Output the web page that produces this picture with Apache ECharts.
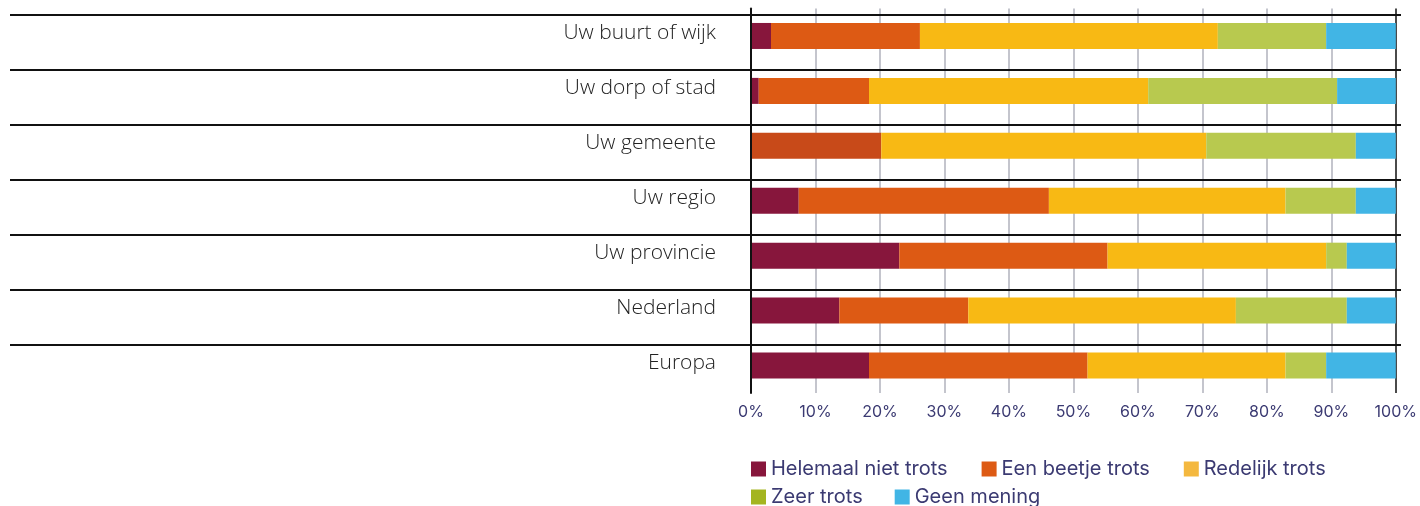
<!DOCTYPE html>
<html>
<head>
<meta charset="utf-8">
<script src="https://cdn.jsdelivr.net/npm/echarts@6/dist/echarts.min.js"></script>
<style>
  html, body { margin: 0; padding: 0; background: #fff; }
  #chart { width: 1420px; height: 506px; }
</style>
</head>
<body>
<div id="chart"></div>
<script>
const categories = ['Uw buurt of wijk', 'Uw dorp of stad', 'Uw gemeente', 'Uw regio', 'Uw provincie', 'Nederland', 'Europa']
const seriesNames = ['Helemaal niet trots', 'Een beetje trots', 'Redelijk trots', 'Zeer trots', 'Geen mening']
const helemaalNiet = [3.1, 1.2, 0, 7.4, 23.0, 13.7, 18.3]
const beetje = [23.1, 17.1, 20.2, 38.8, 32.3, 20.0, 33.9]
const redelijk = [46.2, 43.3, 50.4, 36.7, 33.9, 41.5, 30.7]
const zeer = [16.8, 29.3, 23.2, 10.9, 3.2, 17.2, 6.3]
const geenMening = [10.8, 9.1, 6.2, 6.2, 7.6, 7.6, 10.8]
const xTicks = [0, 10, 20, 30, 40, 50, 60, 70, 80, 90, 100]

const barColors = ['#87163C', '#DD5A14', '#F8B914', '#B8C94F', '#41B5E5']
const legendColors = ['#87163C', '#DD5A14', '#F4B83F', '#A4B520', '#41B5E5']
const navy = '#3B3A72'

const values = [helemaalNiet, beetje, redelijk, zeer, geenMening]

const chart = echarts.init(document.getElementById('chart'))

// last vertical grid line (100%) is drawn darker, like a frame
const gridLineColors = xTicks.map((t, i) => i === xTicks.length - 1 ? '#4a4a4a' : '#C4C5CD')

const legendText = { color: navy, fontSize: 20, fontFamily: 'Inter' }

chart.setOption({
  animation: false,
  grid: [
    { left: 751, right: 19, top: 8.5, height: 384.5 },
    { left: 10, right: 19, top: 15, height: 330 }
  ],
  xAxis: [
    {
      type: 'value', gridIndex: 0, min: 0, max: 100, interval: 10,
      axisLine: { show: false }, axisTick: { show: false },
      axisLabel: { formatter: '{value}%', color: navy, fontSize: 16, fontFamily: 'Inter', margin: 11 },
      splitLine: { lineStyle: { color: gridLineColors, width: 2 } }
    },
    { type: 'value', gridIndex: 1, show: false, min: 0, max: 1 }
  ],
  yAxis: [
    {
      type: 'category', gridIndex: 0, data: categories, inverse: true, z: 3,
      axisLine: { lineStyle: { color: '#111', width: 2 } },
      axisTick: { show: false },
      // labels sit a little above the bar centre
      axisLabel: {
        color: '#222', fontSize: 21, fontWeight: 300, fontFamily: 'Open Sans', margin: 35,
        verticalAlign: 'bottom', lineHeight: 6
      }
    },
    {
      type: 'value', gridIndex: 1, min: 0, max: 6, interval: 1, z: 1,
      axisLine: { show: false }, axisTick: { show: false }, axisLabel: { show: false },
      splitLine: { show: true, lineStyle: { color: '#111', width: 2 } }
    }
  ],
  legend: [
    {
      left: 751, top: 459, padding: 0, itemWidth: 15, itemHeight: 15, itemGap: 34, icon: 'rect',
      textStyle: legendText,
      data: seriesNames.slice(0, 3).map((n, i) => ({ name: n, itemStyle: { color: legendColors[i] } }))
    },
    {
      left: 751, top: 487, padding: 0, itemWidth: 15, itemHeight: 15, itemGap: 32, icon: 'rect',
      textStyle: legendText,
      data: seriesNames.slice(3).map((n, i) => ({ name: n, itemStyle: { color: legendColors[i + 3] } }))
    }
  ],
  series: seriesNames.map((name, si) => ({
    name,
    type: 'bar',
    stack: 'total',
    xAxisIndex: 0,
    yAxisIndex: 0,
    barWidth: 26,
    itemStyle: { color: barColors[si] },
    data: values[si].map((v, ci) => (si === 1 && ci === 2) ? { value: v, itemStyle: { color: '#C84A19' } } : v)
  }))
})
</script>
</body>
</html>
